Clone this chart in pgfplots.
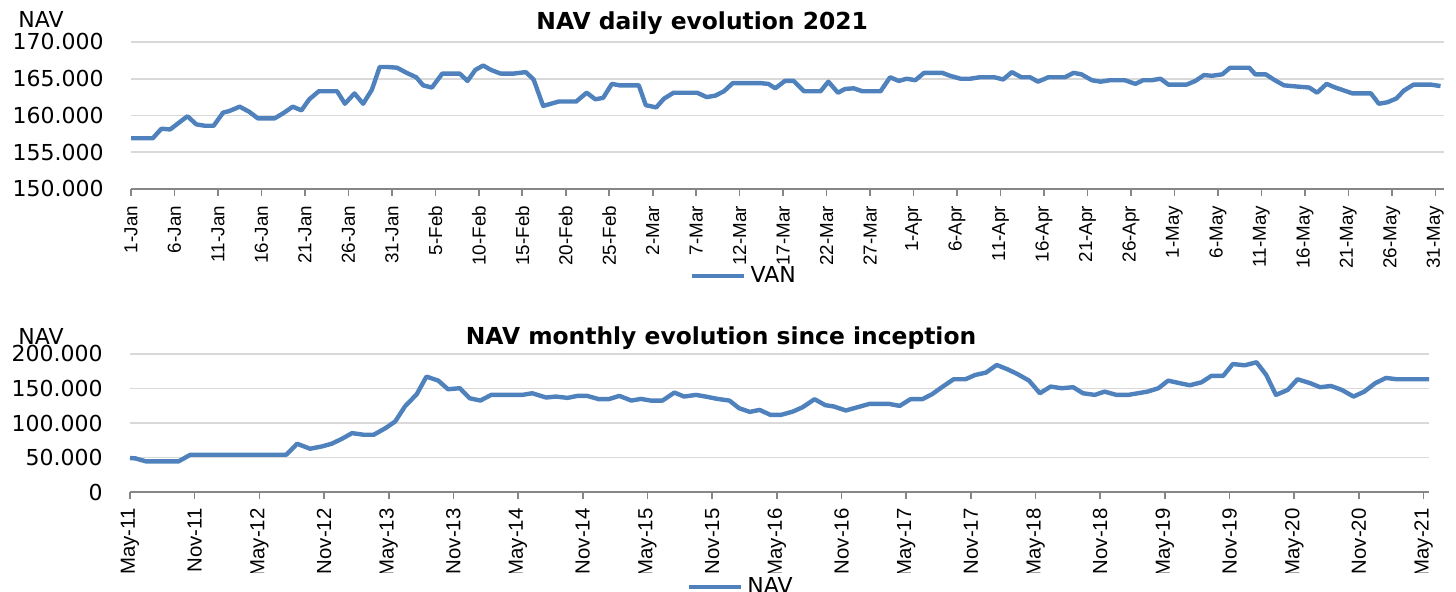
\documentclass[border=0pt]{standalone}
\usepackage{fontspec}
\setmainfont{DejaVu Sans}
\newfontfamily\narrowfont{Liberation Sans}
\usepackage{pgfplots}
\pgfplotsset{compat=1.18}
\definecolor{navblue}{RGB}{79,129,189}
\definecolor{gridgray}{RGB}{217,217,217}
\definecolor{axgray}{RGB}{134,134,134}
\pgfplotsset{excel/.style={
  scale only axis, anchor=south west,
  axis x line*=bottom, axis y line*=left,
  y axis line style={draw=none},
  x axis line style={axgray, line width=0.8pt},
  ytick style={draw=none},
  xtick style={axgray, line width=0.8pt},
  xtick align=outside,
  major tick length=3.5pt,
  ymajorgrids, grid style={gridgray, line width=0.8pt},
  tick label style={font=\fontsize{11}{13}\selectfont},
  xticklabel style={rotate=90, anchor=east, inner sep=0pt},
  yticklabel style={anchor=east, inner sep=0pt, xshift=-13.5pt},
  legend style={draw=none, fill=none, anchor=center, font=\fontsize{11}{13}\selectfont},
  legend image code/.code={\draw[#1, line width=2.2pt] (0pt,0pt) -- (26pt,0pt);},
  title style={anchor=center, yshift=-6pt, font=\bfseries\fontsize{11.7}{13}\selectfont},
  clip=false,
}}
\begin{document}
\begin{tikzpicture}[x=0.5pt,y=0.5pt]
\path[use as bounding box] (0,0) rectangle (1456,592);
\begin{axis}[excel,
  at={(65.5pt,201.5pt)}, width=656.5pt, height=73.5pt,
  xmin=0, xmax=151, ymin=150, ymax=170,
  xtick={0,5,...,150},
  xticklabels={1-Jan,6-Jan,11-Jan,16-Jan,21-Jan,26-Jan,31-Jan,5-Feb,10-Feb,15-Feb,20-Feb,25-Feb,2-Mar,7-Mar,12-Mar,17-Mar,22-Mar,27-Mar,1-Apr,6-Apr,11-Apr,16-Apr,21-Apr,26-Apr,1-May,6-May,11-May,16-May,21-May,26-May,31-May},
  xticklabel style={font=\fontsize{9.4}{11}\selectfont\narrowfont},
  xticklabel shift=4.8pt,
  ytick={150,155,160,165,170},
  yticklabels={150.000,155.000,160.000,165.000,170.000},
  title={NAV daily evolution 2021},
  title style={at={(axis description cs:0.435,1.126)}},
  ylabel={NAV},
  every axis y label/.style={at={(axis description cs:-0.0685,1.15)}, anchor=center, font=\fontsize{11}{13}\selectfont},
  legend style={at={(axis description cs:0.4676,-0.592)}},
]
\addplot[navblue, line width=2.2pt, line join=round] coordinates {
(0,156.9) (2.5,156.9) (3.5,158.2) (4.5,158.1) (5.6,159.1) (6.5,159.9) (7.5,158.8) (8.5,158.6) (9.5,158.6) (10.6,160.4) (11.3,160.6) (12.5,161.2) (13.6,160.5) (14.6,159.6) (16.5,159.6) (17.5,160.3) (18.6,161.2) (19.6,160.7) (20.5,162.2) (21.6,163.3) (23.7,163.3) (24.6,161.6) (25.7,163.0) (26.7,161.6) (27.7,163.5) (28.6,166.6) (29.5,166.6) (30.6,166.5) (31.7,165.8) (32.8,165.2) (33.6,164.1) (34.6,163.8) (35.8,165.7) (37.8,165.7) (38.7,164.7) (39.6,166.2) (40.5,166.8) (41.4,166.2) (42.5,165.7) (44,165.7) (45.4,165.9) (46.3,164.9) (47.4,161.3) (49.2,161.9) (51.2,161.9) (52.4,163.1) (53.4,162.2) (54.3,162.4) (55.3,164.3) (56.2,164.1) (58.4,164.1) (59.2,161.4) (60.4,161.1) (61.3,162.3) (62.4,163.1) (65.1,163.1) (66.2,162.5) (67.2,162.7) (68.2,163.3) (69.2,164.4) (72.4,164.4) (73.3,164.3) (74.1,163.7) (75.2,164.7) (76.2,164.7) (77.4,163.3) (79.3,163.3) (80.2,164.6) (81.3,163.1) (82.1,163.6) (83.1,163.7) (84.1,163.3) (86.2,163.3) (87.3,165.2) (88.3,164.7) (89.2,165.0) (90.2,164.8) (91.2,165.8) (93.3,165.8) (94.2,165.4) (95.4,165.0) (96.5,165.0) (97.6,165.2) (99.3,165.2) (100.3,164.9) (101.3,165.9) (102.4,165.2) (103.4,165.2) (104.3,164.6) (105.5,165.2) (107.4,165.2) (108.4,165.8) (109.3,165.6) (110.5,164.8) (111.5,164.6) (112.6,164.8) (114.3,164.8) (115.5,164.3) (116.4,164.8) (117.4,164.8) (118.4,165.0) (119.3,164.2) (121.4,164.2) (122.4,164.7) (123.4,165.5) (124.3,165.4) (125.5,165.6) (126.4,166.5) (128.6,166.5) (129.3,165.6) (130.5,165.6) (131.4,164.9) (132.6,164.1) (133.5,164.0) (135.5,163.8) (136.4,163.1) (137.5,164.3) (138.5,163.8) (140.5,163.0) (142.6,163.0) (143.5,161.6) (144.5,161.8) (145.5,162.3) (146.4,163.4) (147.5,164.2) (149.5,164.2) (150.6,164.0)
};
\addlegendentry{VAN}
\end{axis}
\begin{scope}
\clip (0,19) rectangle (1456,592) (680,0) rectangle (810,15);
\begin{axis}[excel,
  at={(65pt,50pt)}, width=649.5pt, height=69pt,
  xmin=0, xmax=120.5, ymin=0, ymax=200,
  xtick={0,6,...,120},
  xticklabels={May-11,Nov-11,May-12,Nov-12,May-13,Nov-13,May-14,Nov-14,May-15,Nov-15,May-16,Nov-16,May-17,Nov-17,May-18,Nov-18,May-19,Nov-19,May-20,Nov-20,May-21},
  xticklabel style={font=\fontsize{10.2}{12}\selectfont\narrowfont},
  xticklabel shift=4.5pt,
  ytick={0,50,100,150,200},
  yticklabels={0,50.000,100.000,150.000,200.000},
  title={NAV monthly evolution since inception},
  title style={at={(axis description cs:0.455,1.116)}},
  ylabel={NAV},
  every axis y label/.style={at={(axis description cs:-0.0685,1.13)}, anchor=center, font=\fontsize{11}{13}\selectfont},
  legend style={at={(axis description cs:0.471,-0.688)}},
]
\addplot[navblue, line width=2.2pt, line join=round] coordinates {
(0,49.2) (0.5,48.7) (1.5,44.3) (4.5,44.3) (5.6,54.0) (14.5,54.0) (15.5,69.9) (16.7,62.7) (17.8,66.0) (18.7,69.9) (19.6,76.6) (20.6,85.3) (21.7,82.9) (22.6,82.9) (23.7,92.5) (24.6,102.2) (25.5,123.9) (26.6,141.7) (27.5,167.2) (28.6,161.4) (29.5,148.9) (30.6,150.4) (31.5,135.9) (32.5,132.5) (33.5,140.7) (36.4,140.7) (37.3,143.1) (38.6,136.9) (39.5,138.3) (40.6,136.4) (41.5,139.3) (42.4,139.3) (43.5,134.5) (44.4,134.5) (45.4,139.3) (46.5,132.5) (47.4,134.9) (48.3,132.5) (49.4,132.5) (50.5,144.1) (51.4,138.3) (52.5,140.7) (53.4,138.3) (54.5,134.9) (55.6,132.5) (56.5,121.4) (57.5,116.1) (58.4,119.0) (59.4,111.8) (60.4,111.8) (61.5,116.6) (62.4,122.9) (63.5,134.5) (64.5,125.8) (65.3,123.9) (66.4,118.1) (67.5,122.9) (68.6,127.7) (70.4,127.7) (71.4,124.8) (72.4,134.5) (73.5,134.5) (74.4,141.7) (75.4,152.8) (76.4,163.4) (77.5,163.4) (78.4,169.6) (79.4,173.0) (80.4,184.1) (81.4,177.8) (82.3,171.1) (83.4,161.4) (84.4,143.1) (85.4,152.8) (86.4,150.4) (87.5,151.8) (88.4,143.1) (89.5,140.7) (90.4,145.5) (91.5,140.7) (92.6,140.7) (93.5,143.1) (94.4,145.5) (95.4,150.4) (96.3,161.4) (97.4,157.6) (98.3,154.7) (99.4,159.0) (100.3,168.2) (101.4,168.2) (102.3,185.5) (103.4,183.6) (104.5,188.0) (105.4,169.6) (106.3,140.7) (107.4,148.0) (108.3,163.4) (109.5,157.6) (110.4,151.8) (111.4,153.7) (112.4,148.0) (113.5,138.3) (114.5,145.5) (115.5,157.6) (116.5,165.3) (117.5,163.4) (120.5,163.4)
};
\addlegendentry{NAV}
\end{axis}
\end{scope}
\end{tikzpicture}
\end{document}
